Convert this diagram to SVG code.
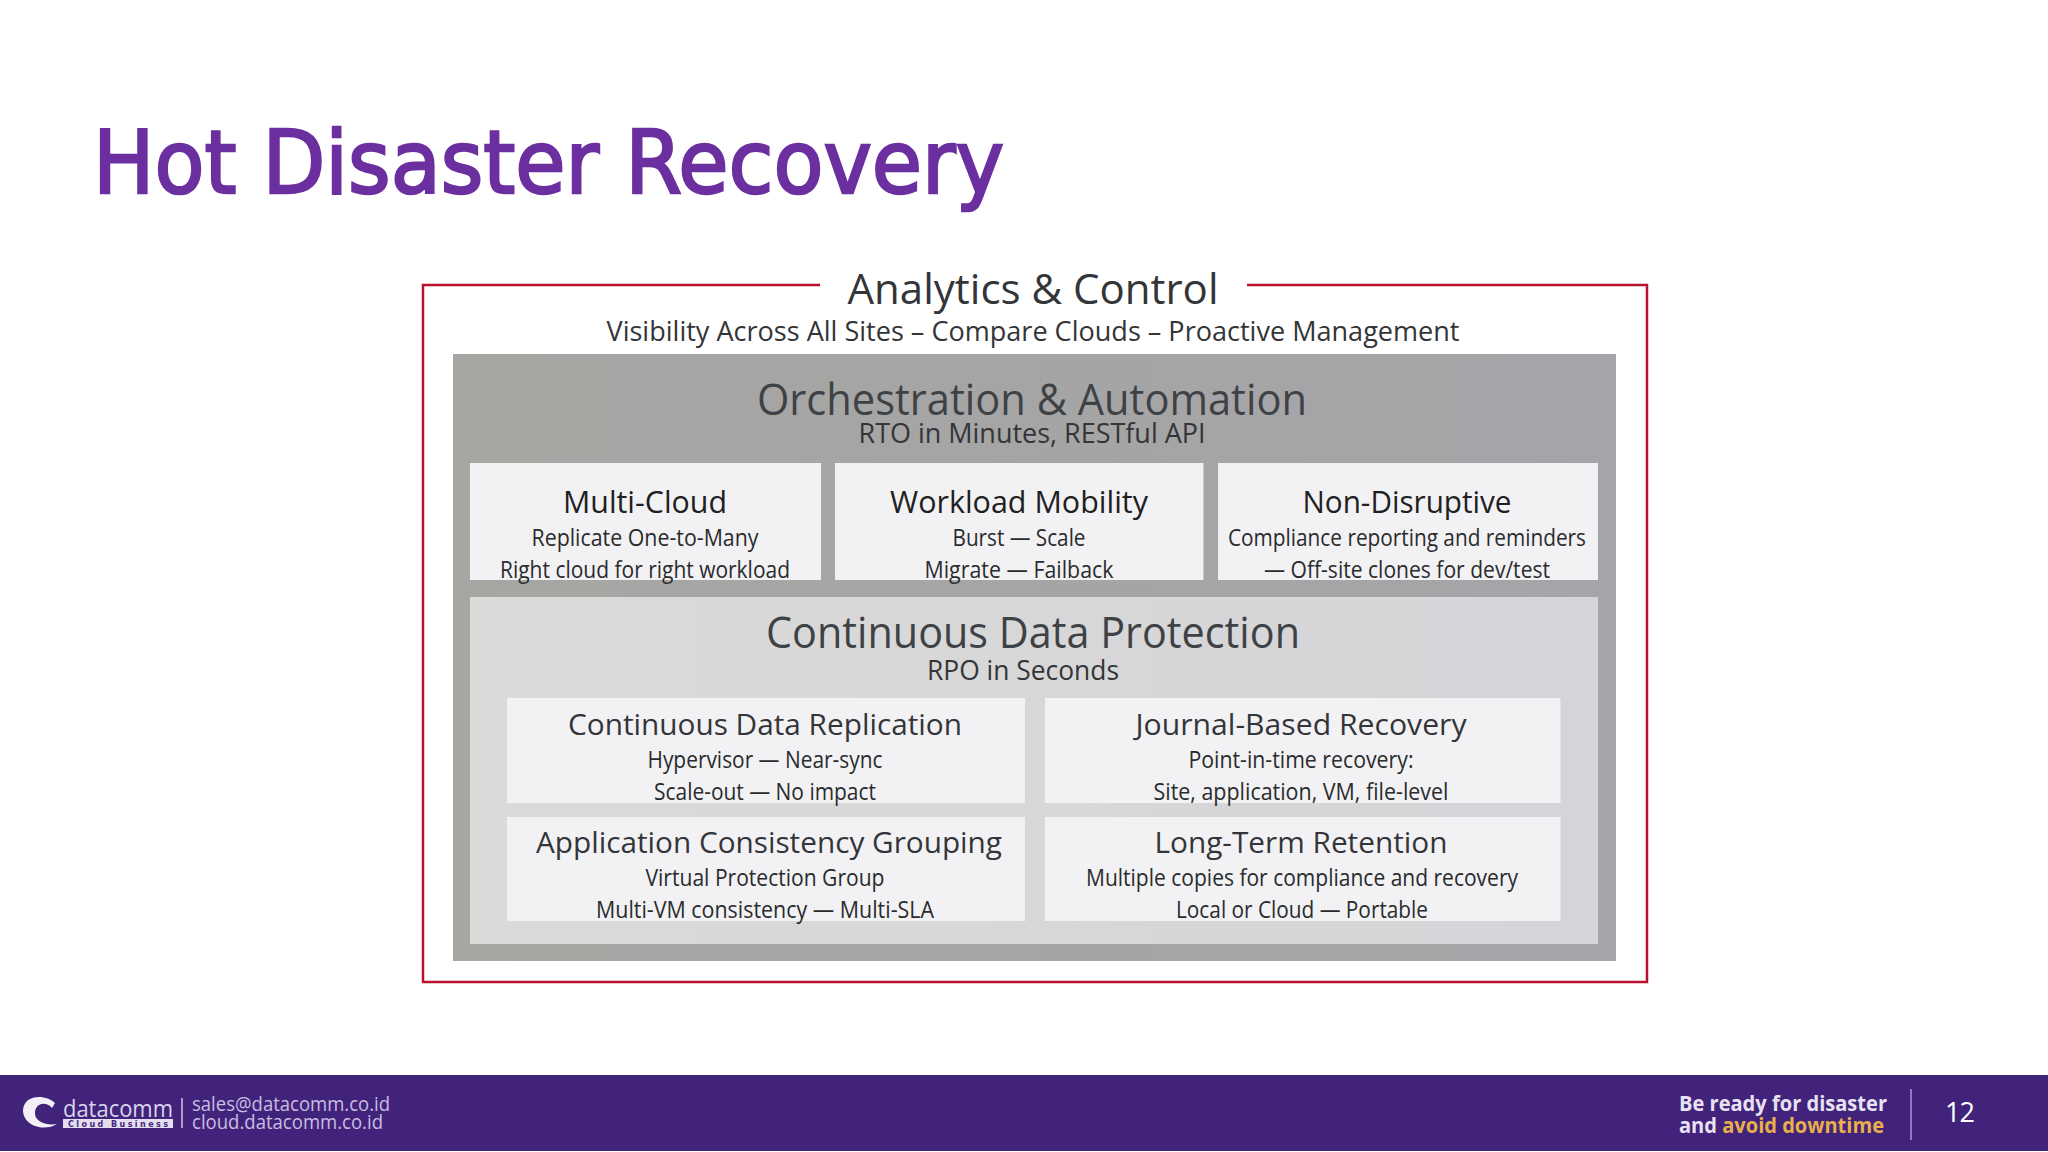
<svg xmlns="http://www.w3.org/2000/svg" width="2048" height="1152" viewBox="0 0 2048 1152">
<style>
text{font-family:"Open Sans","Liberation Sans",sans-serif;text-anchor:middle}
.h1{font-size:43px;fill:#3f4245}
.h2{font-size:31px;fill:#1f2022}
.h3{font-size:30px;fill:#333538}
.s{font-size:23px;fill:#2a2b2d}
.m{font-size:28px;fill:#333538}
.card{fill:#f2f2f4}
.foot{font-size:20px;fill:#c9bde0;text-anchor:start}
.tag{font-size:21px;font-weight:700;fill:#e8e2f2;text-anchor:start}
</style>
<defs>
<linearGradient id="g1" x1="0" x2="1" y1="0" y2="0"><stop offset="0" stop-color="#a6a6a3"/><stop offset="1" stop-color="#a5a4a8"/></linearGradient>
<linearGradient id="g2" x1="0" x2="1" y1="0" y2="0"><stop offset="0" stop-color="#dadad8"/><stop offset="1" stop-color="#d5d5d9"/></linearGradient>
</defs>
<rect width="2048" height="1152" fill="#ffffff"/>
<g id="title"><text x="93" y="193" style="text-anchor:start;font-size:88px;font-family:'DejaVu Sans','Open Sans',sans-serif;stroke:#6c2fa0;stroke-width:2.5px" fill="#6c2fa0" textLength="911" lengthAdjust="spacingAndGlyphs">Hot Disaster Recovery</text></g>
<g id="analytics">
<path d="M820 285H423V982H1647V285H1247" fill="none" stroke="#b8102f" stroke-width="2.5"/>
<text x="1033" y="304" fill="#333538" style="font-size:42px" textLength="371" lengthAdjust="spacingAndGlyphs">Analytics &amp; Control</text>
<text x="1033" y="341" class="m" textLength="853" lengthAdjust="spacingAndGlyphs">Visibility Across All Sites – Compare Clouds – Proactive Management</text>
</g>
<g id="orchestration">
<rect x="453" y="354" width="1163" height="607" fill="url(#g1)"/>
<text x="1032" y="415" class="h1" textLength="550" lengthAdjust="spacingAndGlyphs">Orchestration &amp; Automation</text>
<text x="1032" y="443" class="m" textLength="347" lengthAdjust="spacingAndGlyphs">RTO in Minutes, RESTful API</text>
</g>
<g id="multi-cloud">
<rect class="card" x="470" y="463" width="351" height="117"/>
<text x="645" y="513" class="h2" textLength="164" lengthAdjust="spacingAndGlyphs">Multi-Cloud</text>
<text x="645" y="546" class="s" textLength="227" lengthAdjust="spacingAndGlyphs">Replicate One-to-Many</text>
<text x="645" y="578" class="s" textLength="290" lengthAdjust="spacingAndGlyphs">Right cloud for right workload</text>
</g>
<g id="workload-mobility">
<rect class="card" x="835" y="463" width="368.500" height="117"/>
<text x="1019" y="513" class="h2" textLength="258" lengthAdjust="spacingAndGlyphs">Workload Mobility</text>
<text x="1019" y="546" class="s" textLength="133" lengthAdjust="spacingAndGlyphs">Burst — Scale</text>
<text x="1019" y="578" class="s" textLength="189" lengthAdjust="spacingAndGlyphs">Migrate — Failback</text>
</g>
<g id="non-disruptive">
<rect class="card" x="1218" y="463" width="380" height="117"/>
<text x="1407" y="513" class="h2" textLength="209" lengthAdjust="spacingAndGlyphs">Non-Disruptive</text>
<text x="1407" y="546" class="s" textLength="358" lengthAdjust="spacingAndGlyphs">Compliance reporting and reminders</text>
<text x="1407" y="578" class="s" textLength="286" lengthAdjust="spacingAndGlyphs">— Off-site clones for dev/test</text>
</g>
<g id="cdp">
<rect x="470" y="597" width="1128" height="347" fill="url(#g2)"/>
<text x="1033" y="648" class="h1" textLength="534" lengthAdjust="spacingAndGlyphs">Continuous Data Protection</text>
<text x="1023" y="680" class="m" textLength="192" lengthAdjust="spacingAndGlyphs">RPO in Seconds</text>
</g>
<g id="data-replication">
<rect class="card" x="507" y="698" width="518" height="105"/>
<text x="765" y="735" class="h3" textLength="394" lengthAdjust="spacingAndGlyphs">Continuous Data Replication</text>
<text x="765" y="768" class="s" textLength="235" lengthAdjust="spacingAndGlyphs">Hypervisor — Near-sync</text>
<text x="765" y="800" class="s" textLength="222" lengthAdjust="spacingAndGlyphs">Scale-out — No impact</text>
</g>
<g id="journal-recovery">
<rect class="card" x="1045" y="698" width="515.500" height="105"/>
<text x="1301" y="735" class="h3" textLength="331" lengthAdjust="spacingAndGlyphs">Journal-Based Recovery</text>
<text x="1301" y="768" class="s" textLength="225" lengthAdjust="spacingAndGlyphs">Point-in-time recovery:</text>
<text x="1301" y="800" class="s" textLength="295" lengthAdjust="spacingAndGlyphs">Site, application, VM, file-level</text>
</g>
<g id="consistency-grouping">
<rect class="card" x="507" y="817" width="518" height="104"/>
<text x="769" y="853" class="h3" textLength="466" lengthAdjust="spacingAndGlyphs">Application Consistency Grouping</text>
<text x="765" y="886" class="s" textLength="239" lengthAdjust="spacingAndGlyphs">Virtual Protection Group</text>
<text x="765" y="918" class="s" textLength="338" lengthAdjust="spacingAndGlyphs">Multi-VM consistency — Multi-SLA</text>
</g>
<g id="long-term-retention">
<rect class="card" x="1045" y="817" width="515.500" height="104"/>
<text x="1301" y="853" class="h3" textLength="293" lengthAdjust="spacingAndGlyphs">Long-Term Retention</text>
<text x="1302" y="886" class="s" textLength="432" lengthAdjust="spacingAndGlyphs">Multiple copies for compliance and recovery</text>
<text x="1302" y="918" class="s" textLength="252" lengthAdjust="spacingAndGlyphs">Local or Cloud — Portable</text>
</g>
<g id="footer">
<rect x="0" y="1075" width="2048" height="76" fill="#42237c"/>
<path d="M55 1103C46 1094 24 1094 23 1110C23 1126 44 1132 57 1124C45 1126 34 1121 35 1112C36 1103 46 1101 52 1108Z" fill="#f4f0f8"/>
<text x="63" y="1117" style="text-anchor:start;font-size:24px;fill:#d9d3ea" textLength="110" lengthAdjust="spacingAndGlyphs">datacomm</text>
<rect x="63" y="1119" width="110" height="9" fill="#e4deef"/>
<text x="118" y="1127" style="font-size:8px;font-weight:700;fill:#44247f;font-family:'DejaVu Sans',sans-serif" textLength="100" lengthAdjust="spacing">Cloud Business</text>
<path d="M182 1098V1128" stroke="#cfc6e4" stroke-width="1.500"/>
<text x="192" y="1111" class="foot" textLength="198" lengthAdjust="spacingAndGlyphs">sales@datacomm.co.id</text>
<text x="192" y="1129" class="foot" textLength="191" lengthAdjust="spacingAndGlyphs">cloud.datacomm.co.id</text>
<text x="1679" y="1111" class="tag" textLength="208" lengthAdjust="spacingAndGlyphs">Be ready for disaster</text>
<text x="1679" y="1133" class="tag" textLength="205" lengthAdjust="spacingAndGlyphs">and <tspan fill="#e8b04a">avoid downtime</tspan></text>
<path d="M1911 1089V1140" stroke="#8f7cc0" stroke-width="2"/>
<text x="1960" y="1122" style="font-size:27px;fill:#ffffff" textLength="30" lengthAdjust="spacing">12</text>
</g>
</svg>
